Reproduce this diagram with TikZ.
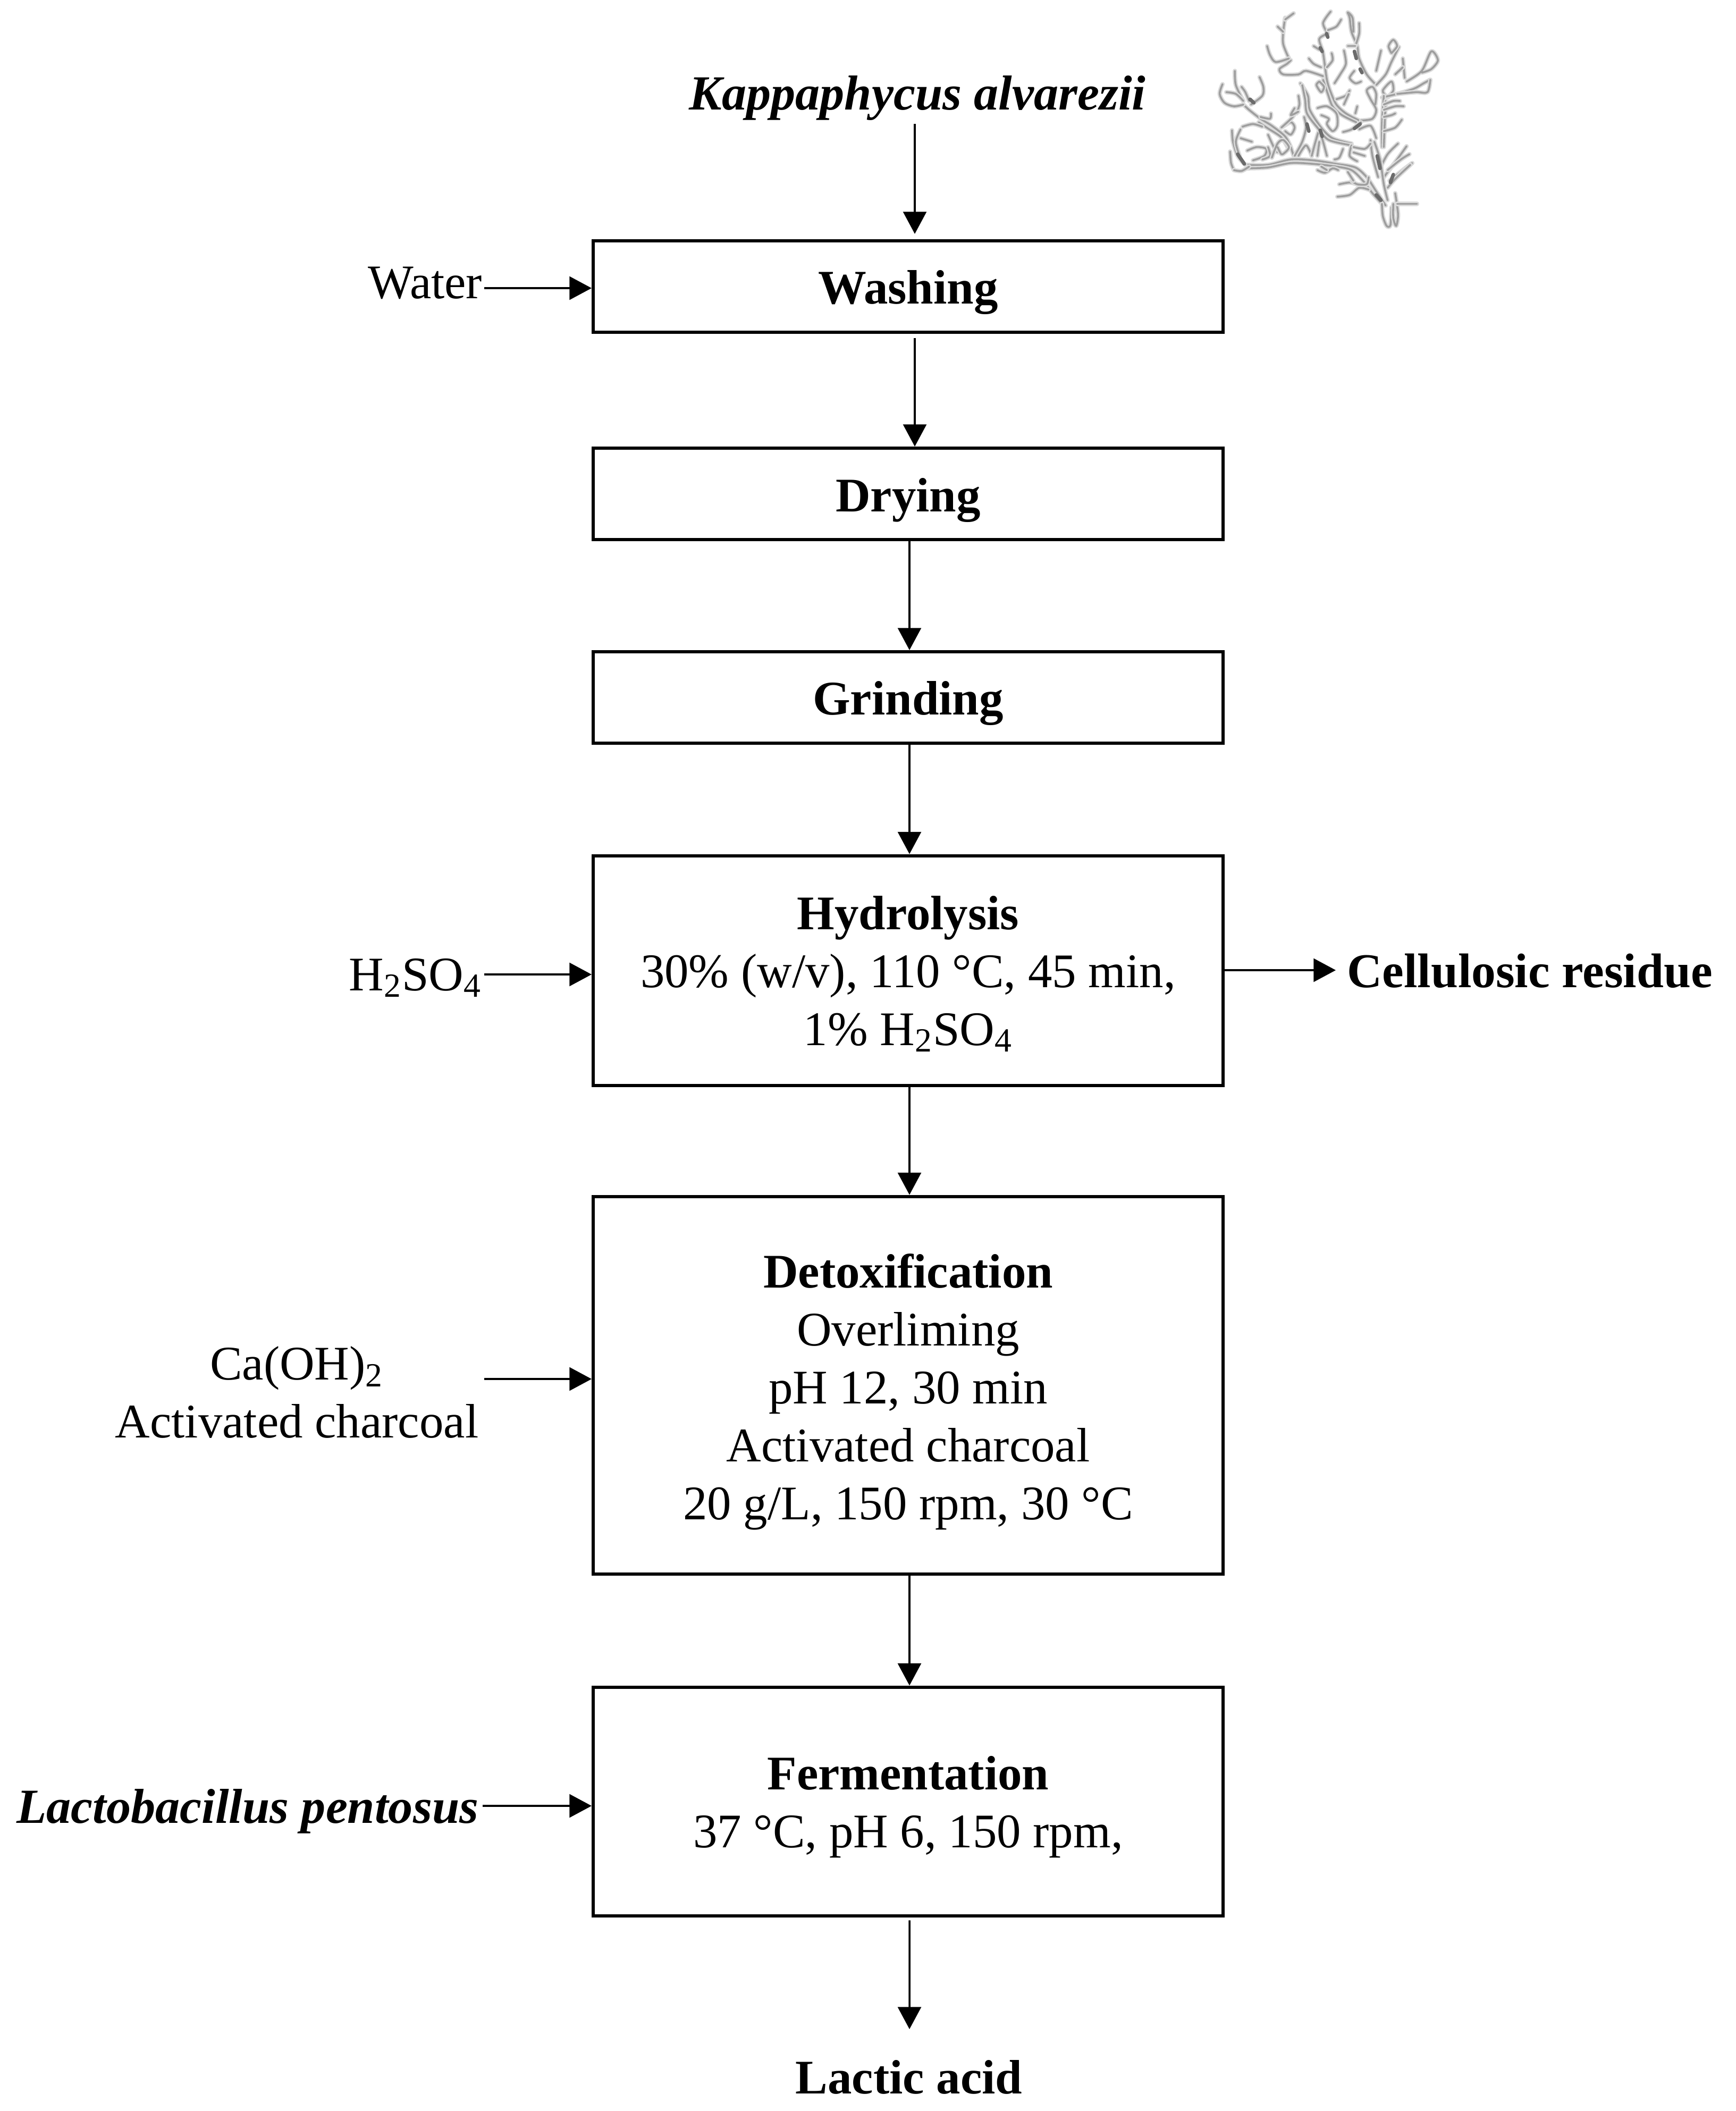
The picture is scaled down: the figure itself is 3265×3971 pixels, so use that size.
\documentclass[tikz,border=0pt]{standalone}
\usepackage{fontspec}
\setmainfont{Liberation Serif}
\usetikzlibrary{arrows.meta}
\newcommand{\sw}[1]{\draw[weedsoft] plot[smooth,tension=.5] coordinates {#1};\draw[weed] plot[smooth,tension=.5] coordinates {#1};}
\newcommand{\sd}[1]{\draw[weeddark] plot[smooth,tension=.5] coordinates {#1};}
\newcommand{\btxt}[2]{\raisebox{#1}[0pt][0pt]{\begin{tabular}[t]{@{}c@{}}#2\end{tabular}}}
\tikzset{
  box/.style={draw=black,line width=1.45pt,minimum width=284.4pt,inner sep=0pt,fill=white,txt},
  txt/.style={font=\fontsize{21.8}{26.16}\selectfont,text=black},
  lab/.style={txt,inner sep=0pt},
  big/.style={font=\fontsize{22.15}{26.16}\selectfont\bfseries\itshape},
  conn/.style={draw=black,line width=0.85pt,-{Triangle[length=10pt,width=10.5pt]}},
  weedsoft/.style={draw=black!14,line width=2pt,line cap=round,line join=round},
  weed/.style={draw=black!38,line width=0.85pt,line cap=round,line join=round},
  weeddark/.style={draw=black!58,line width=1.6pt,line cap=round,line join=round}
}
\begin{document}
\begin{tikzpicture}[x=0.24pt,y=-0.24pt]
\useasboundingbox (0,0) rectangle (3265,3971);
% seaweed
\begin{scope}[shift={(2200,0)},x=0.08568pt,y=-0.08pt]
\sw{(400,930)(520,930)(640,900)(760,905)(880,925)(980,945)(1040,1000)(1090,1080)(1140,1160)}
\sw{(410,950)(520,945)(640,920)(760,925)(880,940)(960,960)(1020,1020)(1070,1090)(1120,1150)}
\sw{(1120,1150)(1125,1220)(1145,1275)(1165,1270)(1170,1170)}
\sw{(1180,1150)(1180,1230)(1195,1275)(1205,1210)(1190,1090)}
\sw{(1200,1150)(1305,1150)}
\sw{(640,830)(610,770)(540,710)(480,670)(420,620)(390,590)}
\sw{(625,835)(590,775)(520,725)(470,690)}
\sw{(655,880)(640,830)}
\sw{(390,590)(340,600)(290,580)(265,530)(280,475)}
\sw{(390,570)(350,480)(345,400)}
\sw{(300,520)(350,530)(390,570)}
\sw{(430,590)(490,540)(495,490)(475,435)}
\sw{(420,570)(400,520)(380,490)}
\sw{(480,660)(530,670)(535,640)}
\sw{(590,720)(640,690)(660,720)(640,760)(610,740)}
\sw{(590,720)(650,660)(665,620)}
\sw{(385,715)(440,700)(490,715)}
\sw{(520,760)(550,830)(570,860)}
\sw{(400,930)(360,880)(335,800)(330,735)}
\sw{(370,880)(350,800)(375,730)}
\sw{(375,780)(435,800)}
\sw{(340,960)(325,920)(320,855)}
\sw{(340,960)(380,965)(420,940)}
\sw{(410,850)(460,830)(510,840)(500,880)(440,905)}
\sw{(490,900)(530,880)(520,830)}
\sw{(540,890)(570,810)(600,790)(630,830)(610,860)(590,870)(570,830)}
\sw{(660,880)(700,800)(720,720)(710,660)}
\sw{(680,880)(720,820)(750,880)}
\sw{(750,880)(770,800)(790,740)(810,800)(830,880)}
\sw{(780,880)(790,800)}
\sw{(1000,680)(930,640)(880,590)(850,520)(830,450)(810,300)(790,220)(835,190)}
\sw{(985,690)(910,650)(860,600)(835,530)(810,450)}
\sw{(810,430)(720,400)(680,420)(600,420)(580,390)(620,360)(640,340)}
\sw{(630,330)(600,250)(600,180)(610,100)}
\sw{(600,180)(570,150)}
\sw{(610,110)(655,75)}
\sw{(630,330)(560,350)(530,310)(515,260)}
\sw{(835,190)(810,130)(850,65)}
\sw{(835,170)(880,150)(905,110)}
\sw{(830,380)(860,340)(855,300)}
\sw{(790,280)(760,260)}
\sw{(800,380)(760,360)(735,330)}
\sw{(870,470)(900,420)(930,360)(920,285)}
\sw{(690,470)(730,540)(740,620)(800,720)(860,780)(960,810)}
\sw{(700,480)(715,560)(725,640)(780,720)(840,790)(960,820)}
\sw{(680,540)(685,590)(670,640)}
\sw{(660,610)(640,650)(680,630)}
\sw{(880,560)(930,540)(950,510)}
\sw{(920,590)(945,530)}
\sw{(980,640)(990,600)}
\sw{(790,460)(815,490)(800,520)(775,480)(790,460)}
\sw{(780,610)(830,600)(880,640)(885,710)(860,740)(830,700)(840,670)(800,650)}
\sw{(1010,680)(1070,670)(1090,620)(1060,560)(1040,510)(1070,490)(1090,530)(1085,590)}
\sw{(1090,480)(1040,420)(1000,330)(990,260)(960,180)(950,100)(940,70)(965,100)(970,180)}
\sw{(1000,130)(1000,190)(980,260)}
\sw{(940,260)(980,260)}
\sw{(1090,480)(1140,420)(1170,350)(1210,265)}
\sw{(1170,300)(1155,260)(1180,225)(1200,260)(1170,300)}
\sw{(1090,400)(1115,285)}
\sw{(975,400)(950,440)(980,470)(1010,460)}
\sw{(1140,540)(1125,510)(1170,460)(1180,510)(1150,550)}
\sw{(1120,550)(1200,530)(1290,500)(1340,470)(1375,450)}
\sw{(1200,530)(1300,520)(1360,520)(1375,450)}
\sw{(1250,460)(1330,400)(1380,290)(1415,340)(1380,390)(1330,410)}
\sw{(1130,540)(1120,700)(1120,830)}
\sw{(1140,570)(1135,690)(1130,830)}
\sw{(1130,590)(1180,570)(1215,570)}
\sw{(1130,620)(1190,600)(1235,600)}
\sw{(1130,660)(1170,650)(1190,640)}
\sw{(1130,740)(1190,720)(1225,675)}
\sw{(1240,440)(1230,330)}
\sw{(1190,420)(1230,380)}
\sw{(1110,950)(1150,870)(1205,810)}
\sw{(1130,1000)(1200,900)(1250,825)}
\sw{(1150,960)(1220,900)(1265,870)}
\sw{(1160,1020)(1230,960)(1280,920)}
\sw{(1150,1060)(1190,1010)(1270,930)}
\sw{(1080,800)(1110,900)(1130,1040)(1150,1130)}
\sw{(1060,790)(1070,880)(1100,1000)}
\sw{(1000,730)(1060,710)(1090,780)}
\sw{(960,820)(950,880)(990,910)}
\sw{(915,745)(960,730)(1010,690)}
\sw{(970,830)(1030,840)(1060,810)}
\sw{(970,860)(1030,880)}
\sw{(895,1040)(950,1030)(990,1040)}
\sw{(885,1110)(950,1100)(1000,1060)(1050,1070)}
\sw{(960,1020)(990,1040)(1040,1040)(1050,1000)}
\sw{(940,970)(970,1020)}
\sw{(780,960)(820,975)(860,950)(890,960)}
\sw{(800,940)(830,960)}
\sw{(915,840)(895,890)(870,900)}
\sd{(425,560)(445,580)}
\sd{(725,700)(735,740)}
\sd{(795,735)(805,770)}
\sd{(1095,880)(1110,950)}
\sd{(1165,1030)(1180,985)}
\sd{(1090,1100)(1115,1130)}
\sd{(975,290)(985,330)}
\sd{(360,870)(395,925)}
\sd{(828,190)(835,210)}
\sd{(795,270)(805,290)}
\sd{(975,725)(1005,700)}
\sd{(1005,390)(1015,410)}
\end{scope}
% boxes
\node[box,minimum height=41.3pt] (wash) at (1708.5,539) {\btxt{-7.92pt}{\bfseries Washing}};
\node[box,minimum height=41.3pt] (dry) at (1708.5,929) {\btxt{-7.92pt}{\bfseries Drying}};
\node[box,minimum height=41.3pt] (grind) at (1708.5,1312) {\btxt{-7.68pt}{\bfseries Grinding}};
\node[box,minimum height=103.9pt] (hyd) at (1708.5,1826) {\btxt{18.72pt}{{\bfseries Hydrolysis}\\30\% (w/v), 110 °C, 45 min,\\1\% H\textsubscript{2}SO\textsubscript{4}}};
\node[box,minimum height=170.6pt] (det) at (1708.5,2606) {\btxt{44.1pt}{{\bfseries Detoxification}\\Overliming\\pH 12, 30 min\\Activated charcoal\\20 g/L, 150 rpm, 30 °C}};
\node[box,minimum height=103.4pt] (fer) at (1708.5,3389) {\btxt{5.4pt}{{\bfseries Fermentation}\\37 °C, pH 6, 150 rpm,}};
% labels
\node[lab,big,anchor=base] (kap) at (1726,207) {Kappaphycus alvarezii};
\node[lab,anchor=base east] (wat) at (908,561) {Water};
\node[lab,anchor=base east] (acid) at (907,1863) {H\textsubscript{2}SO\textsubscript{4}};
\node[lab,anchor=east,align=center] (lime) at (901,2619) {Ca(OH)\textsubscript{2}\\Activated charcoal};
\node[lab,big,anchor=base east] (lacto) at (901,3429) {Lactobacillus pentosus};
\node[lab,anchor=base west,font=\fontsize{21.95}{26.16}\selectfont\bfseries] (res) at (2534,1857) {Cellulosic residue};
\node[lab,anchor=base] (lac) at (1710,3938) {\bfseries Lactic acid};
% free ends
\coordinate (watS) at (911,542);
\coordinate (acidS) at (911,1833);
\coordinate (limeS) at (911,2594);
\coordinate (lactoS) at (908,3397);
\coordinate (resE) at (2513,1825);
\coordinate (lacE) at (1711,3817);
\coordinate (kapS) at (1721,233);
% connectors
\draw[conn,shorten >=2.4pt] (kapS) -- (kapS |- wash.north);
\draw[conn,shorten <=1.9pt] ([xshift=3pt]wash.south) -- ([xshift=3pt]dry.north);
\draw[conn] ([xshift=0.6pt]dry.south) -- ([xshift=0.6pt]grind.north);
\draw[conn] ([xshift=0.6pt]grind.south) -- ([xshift=0.6pt]hyd.north);
\draw[conn] ([xshift=0.6pt]hyd.south) -- ([xshift=0.6pt]det.north);
\draw[conn] ([xshift=0.6pt]det.south) -- ([xshift=0.6pt]fer.north);
\draw[conn,shorten <=1.2pt] ([xshift=0.6pt]fer.south) -- (lacE);
\draw[conn] (watS) -- (watS -| wash.west);
\draw[conn] (acidS) -- (acidS -| hyd.west);
\draw[conn] (limeS) -- (limeS -| det.west);
\draw[conn] (lactoS) -- (lactoS -| fer.west);
\draw[conn] (hyd.east |- resE) -- (resE);
\end{tikzpicture}
\end{document}
